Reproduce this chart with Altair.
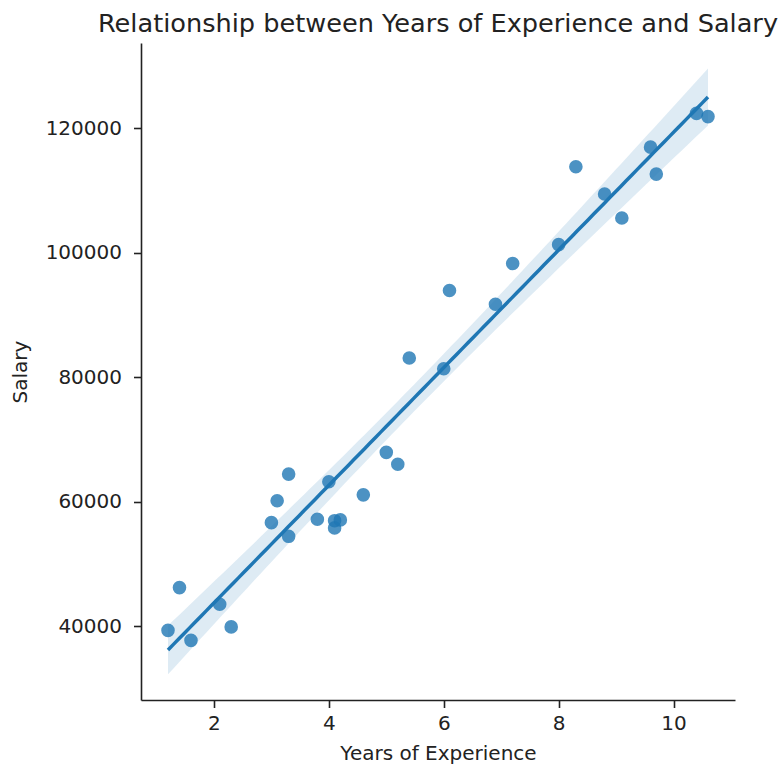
import altair as alt
import numpy as np
import pandas as pd

# Years of experience and salary for 30 employees
years = [1.2, 1.4, 1.6, 2.1, 2.3, 3.0, 3.1, 3.3, 3.3, 3.8,
         4.0, 4.1, 4.1, 4.2, 4.6, 5.0, 5.2, 5.4, 6.0, 6.1,
         6.9, 7.2, 8.0, 8.3, 8.8, 9.1, 9.6, 9.7, 10.4, 10.6]
salary = [39344, 46206, 37732, 43526, 39892, 56643, 60151, 54446, 64446, 57190,
          63219, 55795, 56958, 57082, 61112, 67939, 66030, 83089, 81364, 93941,
          91739, 98274, 101303, 113813, 109432, 105583, 116970, 112636, 122392, 121873]

x_ticks = [2, 4, 6, 8, 10]
y_ticks = [40000, 60000, 80000, 100000, 120000]

pts = pd.DataFrame({"years": years, "salary": salary})

# Ordinary least squares fit with a 95% confidence band for the mean
x = np.array(years, dtype=float)
y = np.array(salary, dtype=float)
n = len(x)
slope, intercept = np.polyfit(x, y, 1)
resid = y - (intercept + slope * x)
s = np.sqrt(np.sum(resid ** 2) / (n - 2))
sxx = np.sum((x - x.mean()) ** 2)
t_crit = 2.048  # t(0.975, df=28)
grid = np.linspace(x.min(), x.max(), 100)
fit = intercept + slope * grid
se = s * np.sqrt(1.0 / n + (grid - x.mean()) ** 2 / sxx)
band = pd.DataFrame({"years": grid, "fit": fit,
                     "lo": fit - t_crit * se, "hi": fit + t_crit * se})

blue = "#1f77b4"
font = "DejaVu Sans"

xscale = alt.Scale(domain=[0.73, 11.07], nice=False, zero=False)
yscale = alt.Scale(domain=[28150, 133700], nice=False, zero=False)

xaxis = alt.Axis(title="Years of Experience", values=x_ticks, grid=False, format="d",
                 tickSize=7.5, tickWidth=1.6, domainWidth=1.6,
                 domainColor="#222", tickColor="#222",
                 labelFontSize=20, titleFontSize=20, labelPadding=6,
                 titlePadding=10, titleFontWeight="normal",
                 labelFont=font, titleFont=font, labelColor="#222", titleColor="#222")
yaxis = alt.Axis(title="Salary", values=y_ticks, grid=False, format="d",
                 tickSize=7.5, tickWidth=1.6, domainWidth=1.6,
                 domainColor="#222", tickColor="#222",
                 labelFontSize=20, titleFontSize=20, labelPadding=12,
                 titlePadding=15, titleFontWeight="normal",
                 labelFont=font, titleFont=font, labelColor="#222", titleColor="#222")

area = alt.Chart(band).mark_area(color=blue, opacity=0.15).encode(
    x=alt.X("years:Q", scale=xscale, axis=xaxis),
    y=alt.Y("lo:Q", scale=yscale, axis=yaxis),
    y2="hi:Q",
)

line = alt.Chart(band).mark_line(color=blue, strokeWidth=3.5).encode(
    x=alt.X("years:Q", scale=xscale),
    y=alt.Y("fit:Q", scale=yscale),
)

dots = alt.Chart(pts).mark_circle(color=blue, opacity=0.8, size=185).encode(
    x=alt.X("years:Q", scale=xscale),
    y=alt.Y("salary:Q", scale=yscale),
)

chart = alt.layer(area, dots, line).properties(
    width=594,
    height=657,
    background="white",
    title=alt.TitleParams("Relationship between Years of Experience and Salary",
                          font=font, fontSize=25.6, fontWeight="normal",
                          color="#222", anchor="middle", offset=5),
    autosize=alt.AutoSizeParams(type="none"),
    padding={"left": 141, "top": 43, "right": 47, "bottom": 67},
).configure_view(stroke=None)

chart.save("out.html", embed_options={"renderer": "svg", "actions": False})
